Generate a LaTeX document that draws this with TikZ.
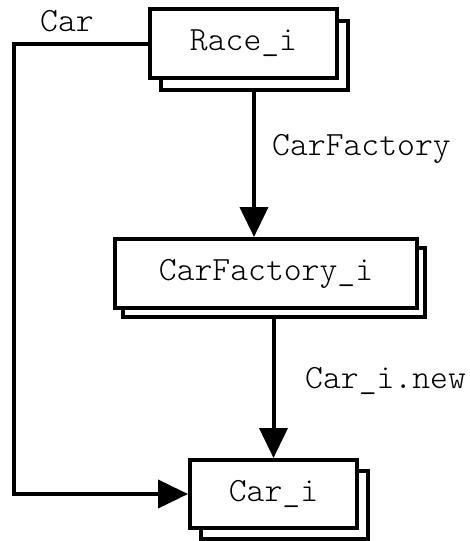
\documentclass[tikz,border=0pt]{standalone}
\usepackage{fontspec}
\setmonofont{Latin Modern Mono Light}
\usetikzlibrary{shadows,arrows.meta,calc}
\begin{document}
\begin{tikzpicture}[x=1pt,y=1pt,
  classbox/.style={draw,line width=4pt,fill=white,inner sep=0pt,
    font=\ttfamily\fontsize{34}{34}\selectfont},
  flow/.style={line width=4pt,-{Triangle[length=30pt,width=28pt]}},
  lbl/.style={anchor=base west,inner sep=0pt,font=\ttfamily\fontsize{34}{34}\selectfont}]
\useasboundingbox (0,0) rectangle (470,-541);
% stacked boxes (instance sets)
\node[classbox,minimum width=187pt,minimum height=69pt,
  copy shadow={shadow xshift=11pt,shadow yshift=-12pt,line width=3.5pt}]
  (race) at (243.5,-43.5) {Race\_i};
\node[classbox,minimum width=302pt,minimum height=69pt,
  copy shadow={shadow xshift=8pt,shadow yshift=-9pt,line width=3.5pt}]
  (cf) at (266,-273.5) {CarFactory\_i};
\node[classbox,minimum width=167pt,minimum height=68pt,
  copy shadow={shadow xshift=11pt,shadow yshift=-11pt,line width=3.5pt}]
  (car) at (273.5,-494) {Car\_i};
% connectors
\coordinate (corner) at (14,-45);
\draw[flow] ([xshift=10.5pt,yshift=-12pt]race.south) -- ([xshift=-12pt]cf.north);
\draw[flow] ([xshift=7.5pt,yshift=-9pt]cf.south) -- (car.north);
\draw[flow] (race.west) -- (race.west -| corner) |- (car.west);
% labels
\node[lbl] (lcar) at (40,-31) {Car};
\node[lbl] (lcf) at (272,-155) {CarFactory};
\node[lbl] (lnew) at (305,-388) {Car\_i.new};
\end{tikzpicture}
\end{document}
